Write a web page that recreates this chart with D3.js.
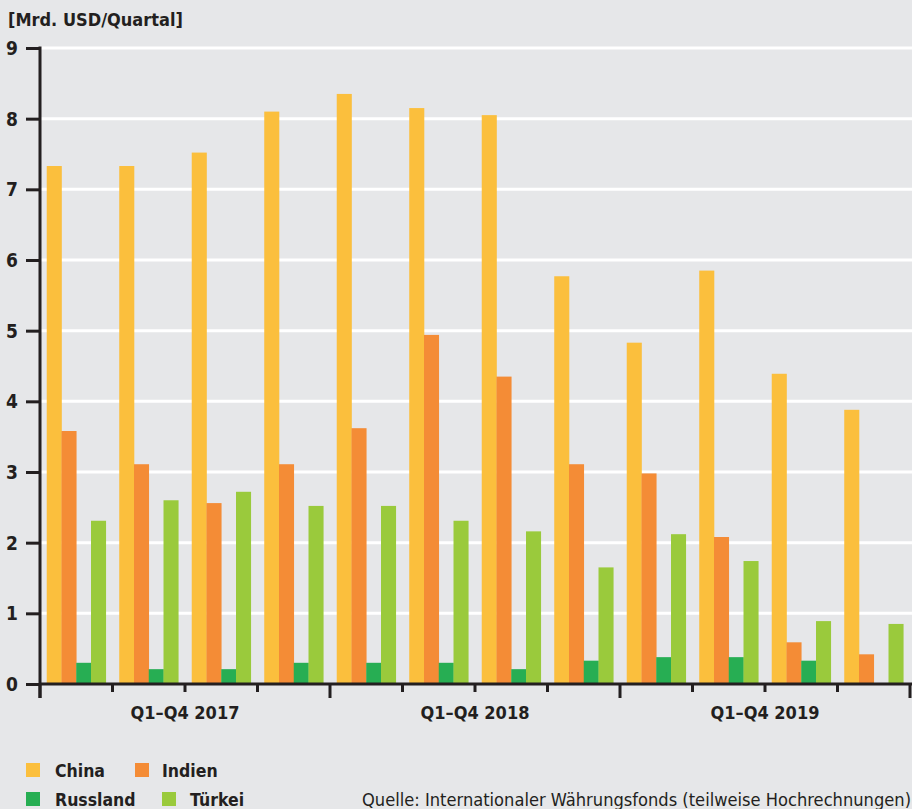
<!DOCTYPE html>
<html>
<head>
<meta charset="utf-8">
<script src="https://cdn.jsdelivr.net/npm/d3@7"></script>
<style>
  html, body { margin: 0; padding: 0; background: #e6e7e9; }
  svg { display: block; }
  text { font-family: "Liberation Sans Narrow", "DejaVu Sans Condensed", "Roboto", sans-serif; fill: #231f20; }
  .b { font-weight: bold; }
</style>
</head>
<body>
<script>
// Quarterly values, billion USD per quarter
const quarters = ["2017 Q1","2017 Q2","2017 Q3","2017 Q4",
                  "2018 Q1","2018 Q2","2018 Q3","2018 Q4",
                  "2019 Q1","2019 Q2","2019 Q3","2019 Q4"];
const years = ["Q1–Q4 2017", "Q1–Q4 2018", "Q1–Q4 2019"];
const seriesNames = ["China", "Indien", "Russland", "Türkei"];
const china    = [7.33, 7.33, 7.52, 8.10, 8.35, 8.15, 8.05, 5.77, 4.83, 5.85, 4.39, 3.88];
const indien   = [3.58, 3.11, 2.56, 3.11, 3.62, 4.94, 4.35, 3.11, 2.98, 2.08, 0.59, 0.42];
const russland = [0.30, 0.21, 0.21, 0.30, 0.30, 0.30, 0.21, 0.33, 0.38, 0.38, 0.33, 0.00];
const tuerkei  = [2.31, 2.60, 2.72, 2.52, 2.52, 2.31, 2.16, 1.65, 2.12, 1.74, 0.89, 0.85];
const yTicks = [0, 1, 2, 3, 4, 5, 6, 7, 8, 9];
const colors = ["#fbbf3d", "#f48c36", "#27ae53", "#9aca3c"];

const values = [china, indien, russland, tuerkei];
const W = 912, H = 809;
const x0 = 40, x1 = 910, yTop = 48, yBase = 684;

const svg = d3.select("body").append("svg").attr("width", W).attr("height", H);
svg.append("rect").attr("width", W).attr("height", H).attr("fill", "#e6e7e9");

const y = d3.scaleLinear().domain([0, 9]).range([yBase, yTop]);
const xq = d3.scaleBand().domain(quarters).range([x0, x1]).paddingInner(0.186).paddingOuter(0.093);
const xs = d3.scaleBand().domain(seriesNames).range([0, xq.bandwidth()]);
const xYear = d3.scaleBand().domain(years).range([x0, x1]);

// white grid lines
svg.append("g").selectAll("line").data(yTicks.filter(d => d > 0)).join("line")
  .attr("x1", x0).attr("x2", W)
  .attr("y1", d => y(d)).attr("y2", d => y(d))
  .attr("stroke", "#ffffff").attr("stroke-width", 3);

// bars
const groups = svg.append("g").selectAll("g").data(quarters).join("g")
  .attr("transform", d => `translate(${xq(d)},0)`);
groups.selectAll("rect")
  .data((q, i) => seriesNames.map((s, k) => ({ s, k, v: values[k][i] })))
  .join("rect")
  .attr("x", d => xs(d.s))
  .attr("width", xs.bandwidth() + 0.3)
  .attr("y", d => y(d.v))
  .attr("height", d => yBase - y(d.v))
  .attr("fill", d => colors[d.k]);

// y axis
const yAxis = d3.axisLeft(y).tickValues(yTicks).tickSize(14).tickPadding(8).tickFormat(d3.format("d"));
const gy = svg.append("g").attr("transform", `translate(${x0},0)`).call(yAxis);
gy.select(".domain").remove();
gy.selectAll(".tick line").attr("stroke", "#231f20").attr("stroke-width", 3);
gy.selectAll(".tick text").attr("class", "b").style("font-size", "19px")
  .style("font-family", null).attr("fill", "#231f20").attr("dy", "0.34em");
svg.append("line").attr("x1", x0).attr("x2", x0).attr("y1", yTop - 1.5).attr("y2", 698)
  .attr("stroke", "#231f20").attr("stroke-width", 3);

// x axis: quarter ticks and year ticks
svg.append("line").attr("x1", x0).attr("x2", 912).attr("y1", yBase).attr("y2", yBase)
  .attr("stroke", "#231f20").attr("stroke-width", 3);
const boundaries = d3.range(quarters.length + 1).map(i => i);
const qStep = xq.step();
svg.append("g").selectAll("line").data(boundaries).join("line")
  .attr("x1", i => xq.range()[0] + i * qStep).attr("x2", i => xq.range()[0] + i * qStep)
  .attr("y1", yBase).attr("y2", i => i % 4 === 0 ? 698 : 692)
  .attr("stroke", "#231f20").attr("stroke-width", 3);

svg.append("g").selectAll("text").data(years).join("text")
  .attr("class", "b")
  .attr("x", d => xYear(d) + xYear.bandwidth() / 2)
  .attr("y", 719)
  .attr("text-anchor", "middle")
  .style("font-size", "18px")
  .text(d => d);

// unit label
svg.append("text").attr("class", "b").attr("x", 8).attr("y", 26)
  .style("font-size", "18px").text("[Mrd. USD/Quartal]");

// legend
const legendPos = [
  { sx: 26, tx: 55, y: 763 },
  { sx: 135, tx: 162, y: 763 },
  { sx: 26, tx: 55, y: 792 },
  { sx: 162, tx: 190, y: 792 }
];
const lg = svg.append("g").selectAll("g").data(seriesNames).join("g");
lg.append("rect")
  .attr("x", (d, i) => legendPos[i].sx).attr("y", (d, i) => legendPos[i].y)
  .attr("width", 14).attr("height", 14).attr("fill", (d, i) => colors[i]);
lg.append("text").attr("class", "b")
  .attr("x", (d, i) => legendPos[i].tx).attr("y", (d, i) => legendPos[i].y + 14)
  .style("font-size", "17.5px").text(d => d);

// source note
svg.append("text").attr("x", 362).attr("y", 806)
  .style("font-size", "17px")
  .attr("textLength", 549).attr("lengthAdjust", "spacingAndGlyphs")
  .text("Quelle: Internationaler Währungsfonds (teilweise Hochrechnungen)");
</script>
</body>
</html>
